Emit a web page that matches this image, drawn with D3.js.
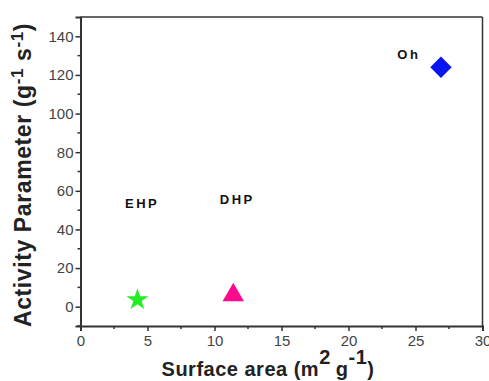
<!DOCTYPE html>
<html><head><meta charset="utf-8">
<script src="https://cdn.jsdelivr.net/npm/d3@7"></script>
<style>body{margin:0;background:#fff}svg{display:block}</style>
</head><body>
<script>
const samples = ["EHP", "DHP", "Oh"];
const surfaceArea = [4.25, 11.4, 26.9];
const activity = [3.6, 6.0, 124];
const colors = ["#22ee22", "#ff0a8c", "#0a14f0"];
const shapes = ["star", "triangle", "diamond"];
const labelX = [4.6, 11.7, 24.5];
const labelY = [51, 53, 128];
const xTicks = [0, 5, 10, 15, 20, 25, 30];
const yTicks = [0, 20, 40, 60, 80, 100, 120, 140];

const W = 489, H = 381;
const svg = d3.select("body").append("svg").attr("width", W).attr("height", H);
const x = d3.scaleLinear().domain([0, 30]).range([80.5, 482.5]);
const y = d3.scaleLinear().domain([-10, 150]).range([326, 17]);

const font = "Arial, 'Liberation Sans', sans-serif";
svg.append("line").attr("x1", x(0)).attr("x2", x(30)).attr("y1", y(150)).attr("y2", y(150)).attr("stroke", "#333").attr("stroke-width", 1.5);
svg.append("line").attr("x1", x(30)).attr("x2", x(30)).attr("y1", y(150)).attr("y2", y(-10)).attr("stroke", "#333").attr("stroke-width", 1.5);

const xMinor = d3.range(2.5, 30, 5);
const yMinor = d3.range(-10, 150, 20);
svg.append("g").selectAll("line").data(xMinor).join("line")
  .attr("x1", d => x(d)).attr("x2", d => x(d)).attr("y1", y(-10)).attr("y2", y(-10) + 3)
  .attr("stroke", "#333").attr("stroke-width", 1.5);
svg.append("g").selectAll("line").data(yMinor).join("line")
  .attr("y1", d => y(d)).attr("y2", d => y(d)).attr("x1", x(0)).attr("x2", x(0) - 3)
  .attr("stroke", "#333").attr("stroke-width", 1.5);

const xAxis = svg.append("g").attr("transform", `translate(0,${y(-10)})`)
  .call(d3.axisBottom(x).tickValues(xTicks).tickSize(5).tickPadding(4));
const yAxis = svg.append("g").attr("transform", `translate(${x(0)},0)`)
  .call(d3.axisLeft(y).tickValues(yTicks).tickSize(5).tickPadding(2));
[xAxis, yAxis].forEach(g => {
  g.select(".domain").attr("stroke", "#333").attr("stroke-width", 2);
  g.selectAll(".tick line").attr("stroke", "#333").attr("stroke-width", 1.5);
  g.selectAll(".tick text").attr("fill", "#444").style("font-family", font).style("font-size", "15px");
});

const sym = {
  star: d3.symbol().type(d3.symbolStar).size(150),
  triangle: d3.symbol().type(d3.symbolTriangle).size(200),
  diamond: d3.symbol().type(d3.symbolSquare).size(230)
};
svg.append("g").selectAll("path").data(samples).join("path")
  .attr("d", (d, i) => sym[shapes[i]]())
  .attr("transform", (d, i) => `translate(${x(surfaceArea[i])},${y(activity[i])})` + (shapes[i] === "diamond" ? " rotate(45)" : ""))
  .attr("fill", (d, i) => colors[i]);

svg.append("g").selectAll("text").data(samples).join("text")
  .attr("x", (d, i) => x(labelX[i])).attr("y", (d, i) => y(labelY[i]))
  .attr("text-anchor", "middle")
  .style("font-family", font).style("font-size", "13px").style("font-weight", "bold")
  .style("letter-spacing", "2.5px").attr("fill", "#111")
  .text(d => d);

const yt = svg.append("text").attr("transform", `translate(31,175) rotate(-90)`)
  .attr("text-anchor", "middle").style("font-family", font).style("font-size", "23px").style("font-weight", "bold")
  .style("letter-spacing", "0.6px").attr("fill", "#222");
yt.append("tspan").text("Activity Parameter  (g");
yt.append("tspan").attr("dy", -8).style("font-size", "17px").text("-1");
yt.append("tspan").attr("dy", 8).text(" s");
yt.append("tspan").attr("dy", -8).style("font-size", "17px").text("-1");
yt.append("tspan").attr("dy", 8).text(")");

const xt = svg.append("text").attr("x", 268).attr("y", 376)
  .attr("text-anchor", "middle").style("font-family", font).style("font-size", "20px").style("font-weight", "bold")
  .style("letter-spacing", "0.5px").attr("fill", "#222");
xt.append("tspan").text("Surface area (m");
xt.append("tspan").attr("dy", -12).text("2");
xt.append("tspan").attr("dx", 5).attr("dy", 12).text("g");
xt.append("tspan").attr("dy", -12).text("-1");
xt.append("tspan").attr("dy", 12).text(")");
</script>
</body></html>
